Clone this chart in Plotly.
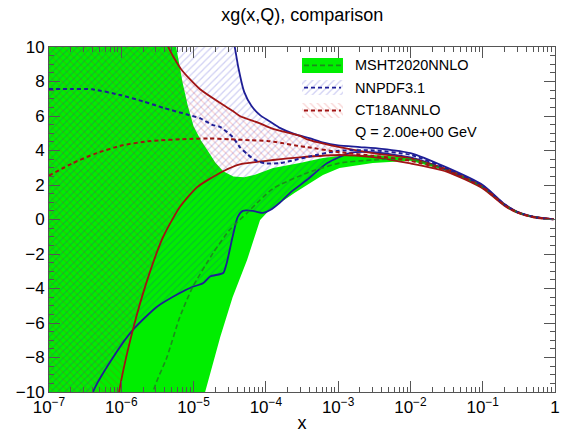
import numpy as np
import plotly.graph_objects as go

# ---- gluon xg(x,Q) at Q = 2 GeV; positions given as log10(x) ----
# MSHT2020NNLO
msht_c_lx = [-7.0, -6.5, -6.0, -5.56, -5.37, -5.19, -5.01, -4.73, -4.50, -4.26, -4.08, -3.90,
             -3.43, -2.98, -2.52, -2.0, -1.5, -1.0, -0.7, -0.52, -0.3, -0.15, -0.022]
msht_c = [-120, -60, -25, -10, -8.0, -5.65, -3.9, -1.94, -0.6, 0.38, 1.13, 1.8,
          2.7, 3.27, 3.45, 3.5, 2.88, 1.88, 0.85, 0.42, 0.15, 0.06, 0.02]
msht_hi_lx = [-7.0, -6.0, -5.5, -5.23, -5.15, -5.08, -5.0, -4.9, -4.81, -4.7, -4.59, -4.45, -4.3,
              -4.15, -3.9, -3.53, -3.21, -2.88, -2.52, -2.0, -1.5, -1.0, -0.7, -0.52, -0.3, -0.15, -0.022]
msht_hi = [120, 40, 16, 10, 7.9, 6.6, 5.4, 4.6, 4.03, 3.3, 2.8, 2.5, 2.45,
           2.6, 2.98, 3.27, 3.56, 3.74, 3.74, 3.6, 2.93, 1.92, 0.88, 0.44, 0.16, 0.07, 0.03]
msht_lo_lx = [-7.0, -6.0, -5.0, -4.84, -4.63, -4.46, -4.26, -4.08, -3.95, -3.80, -3.60, -3.43,
              -3.21, -2.98, -2.52, -2.0, -1.5, -1.0, -0.7, -0.52, -0.3, -0.15, -0.022]
msht_lo = [-150, -60, -17, -10, -6.8, -4.5, -2.35, -0.03, 0.55, 1.0, 1.55, 2.0,
           2.58, 2.98, 3.27, 3.4, 2.83, 1.84, 0.82, 0.40, 0.14, 0.05, 0.01]

# NNPDF3.1
nnpdf_c_lx = [-7.0, -6.7, -6.4, -6.0, -5.7, -5.4, -5.1, -4.9, -4.75, -4.63, -4.46, -4.36, -4.26,
              -4.15, -4.0, -3.8, -3.6, -3.4, -3.0, -2.5, -2.0, -1.5, -1.0, -0.7, -0.52, -0.3, -0.15, -0.022]
nnpdf_c = [7.57, 7.57, 7.55, 7.2, 6.85, 6.45, 6.1, 5.85, 5.5, 5.36, 4.78, 4.2, 3.8,
           3.45, 3.25, 3.27, 3.45, 3.65, 3.98, 4.0, 3.75, 2.95, 1.95, 0.87, 0.43, 0.15, 0.06, 0.02]
nnpdf_hi_lx = [-7.0, -5.5, -4.7, -4.43, -4.38, -4.3, -4.2, -4.08, -3.95, -3.8, -3.6, -3.4, -3.2,
               -3.0, -2.7, -2.4, -2.0, -1.5, -1.0, -0.7, -0.52, -0.3, -0.15, -0.022]
nnpdf_hi = [150, 60, 16, 10, 8.8, 7.4, 6.6, 6.05, 5.7, 5.3, 4.95, 4.72, 4.45,
            4.3, 4.2, 4.1, 3.85, 3.02, 2.0, 0.9, 0.45, 0.16, 0.07, 0.03]
nnpdf_lo_lx = [-7.0, -6.8, -6.6, -6.39, -6.11, -5.84, -5.51, -5.19, -5.01, -4.87, -4.77, -4.59,
               -4.54, -4.46, -4.39, -4.32, -4.18, -4.04, -3.94, -3.80, -3.65, -3.43, -3.15, -2.84,
               -2.52, -2.0, -1.5, -1.0, -0.7, -0.52, -0.3, -0.15, -0.022]
nnpdf_lo = [-45, -25, -16, -10, -7.97, -6.4, -5.07, -4.26, -3.9, -3.7, -3.3, -3.1,
            -2.5, -1.0, 0.14, 0.5, 0.5, 0.38, 0.55, 1.0, 1.6, 2.3, 3.27, 3.85,
            3.9, 3.6, 2.88, 1.9, 0.85, 0.42, 0.15, 0.06, 0.02]

# CT18ANNLO
ct18_c_lx = [-7.0, -6.67, -6.34, -5.98, -5.60, -5.05, -4.80, -4.50, -4.22, -3.98, -3.80, -3.53,
             -3.43, -2.98, -2.52, -2.0, -1.5, -1.0, -0.7, -0.52, -0.3, -0.15, -0.022]
ct18_c = [2.55, 3.27, 3.85, 4.3, 4.55, 4.67, 4.7, 4.65, 4.6, 4.55, 4.45, 4.25,
          4.2, 3.9, 3.7, 3.4, 2.85, 1.85, 0.83, 0.41, 0.14, 0.06, 0.02]
ct18_hi_lx = [-7.0, -6.0, -5.6, -5.35, -5.17, -4.91, -4.63, -4.46, -4.36, -4.1, -3.9, -3.53,
              -3.43, -2.98, -2.52, -2.0, -1.5, -1.0, -0.7, -0.52, -0.3, -0.15, -0.022]
ct18_hi = [60, 22, 13.5, 10, 8.7, 7.55, 6.75, 6.3, 6.0, 5.6, 5.25, 4.85,
           4.65, 4.2, 3.85, 3.55, 2.92, 1.9, 0.87, 0.43, 0.15, 0.07, 0.03]
ct18_lo_lx = [-7.0, -6.5, -6.2, -6.03, -5.84, -5.64, -5.42, -5.19, -4.95, -4.59, -4.36, -4.1,
              -3.9, -3.53, -2.98, -2.52, -2.0, -1.5, -1.0, -0.7, -0.52, -0.3, -0.15, -0.022]
ct18_lo = [-80, -35, -16, -10, -6.4, -3.5, -1.0, 0.72, 1.88, 2.8, 3.2, 3.35,
           3.45, 3.6, 3.74, 3.62, 3.25, 2.78, 1.8, 0.8, 0.39, 0.13, 0.05, 0.01]

legend_names = ["MSHT2020NNLO", "NNPDF3.1", "CT18ANNLO"]
legend_note = "Q = 2.00e+00 GeV"

# x-axis decades and their labels
x_ticks = [1e-7, 1e-6, 1e-5, 1e-4, 1e-3, 1e-2, 1e-1, 1.0]
x_ticktext = ["10<sup>\u22127</sup>", "10<sup>\u22126</sup>", "10<sup>\u22125</sup>",
              "10<sup>\u22124</sup>", "10<sup>\u22123</sup>", "10<sup>\u22122</sup>",
              "10<sup>\u22121</sup>", "1"]
# minor tick positions on the log axis: 2..9 within each decade
minor_x = [m * 10.0 ** k for k in range(-7, 0) for m in range(2, 10)]

GREEN = "#00ee00"
GREEN_LINE = "#1c8c1c"
BLUE = "#1e1e96"
BLUE_HATCH = "rgba(30,30,200,0.42)"
RED = "#a01414"
RED_HATCH = "rgba(220,20,20,0.38)"
AX = "#555555"
FONT = "Liberation Sans, Arial, Helvetica, sans-serif"
HATCH_SIZE = 5
HATCH_SOLIDITY = 0.25


def xs(lx):
    return np.power(10.0, np.asarray(lx, dtype=float))


def band(lo_lx, lo, hi_lx, hi):
    bx = np.concatenate([xs(lo_lx), xs(hi_lx)[::-1]])
    by = np.concatenate([np.asarray(lo, float), np.asarray(hi, float)[::-1]])
    return bx, by


def hatch(shape, color):
    return dict(shape=shape, fgcolor=color, bgcolor="rgba(0,0,0,0)",
                size=HATCH_SIZE, solidity=HATCH_SOLIDITY)


fig = go.Figure()

# error bands
bx, by = band(msht_lo_lx, msht_lo, msht_hi_lx, msht_hi)
fig.add_trace(go.Scatter(x=bx, y=by, mode="lines", fill="toself", fillcolor=GREEN,
                         line=dict(width=0, color=GREEN), hoverinfo="skip", showlegend=False))
bx, by = band(nnpdf_lo_lx, nnpdf_lo, nnpdf_hi_lx, nnpdf_hi)
fig.add_trace(go.Scatter(x=bx, y=by, mode="lines", fill="toself", fillcolor="rgba(0,0,0,0)",
                         fillpattern=hatch("/", BLUE_HATCH),
                         line=dict(width=0), hoverinfo="skip", showlegend=False))
bx, by = band(ct18_lo_lx, ct18_lo, ct18_hi_lx, ct18_hi)
fig.add_trace(go.Scatter(x=bx, y=by, mode="lines", fill="toself", fillcolor="rgba(0,0,0,0)",
                         fillpattern=hatch("\\", RED_HATCH),
                         line=dict(width=0), hoverinfo="skip", showlegend=False))

# band edges
for lx, v, col in [(nnpdf_hi_lx, nnpdf_hi, BLUE), (nnpdf_lo_lx, nnpdf_lo, BLUE),
                   (ct18_hi_lx, ct18_hi, RED), (ct18_lo_lx, ct18_lo, RED)]:
    fig.add_trace(go.Scatter(x=xs(lx), y=v, mode="lines",
                             line=dict(color=col, width=1.8, shape="spline", smoothing=0.6),
                             hoverinfo="skip", showlegend=False))

# central values
fig.add_trace(go.Scatter(x=xs(msht_c_lx), y=msht_c, mode="lines",
                         line=dict(color=GREEN_LINE, width=1.6, dash="5px,3px", shape="spline", smoothing=0.6),
                         showlegend=False))
fig.add_trace(go.Scatter(x=xs(nnpdf_c_lx), y=nnpdf_c, mode="lines",
                         line=dict(color=BLUE, width=2, dash="4px,3px", shape="spline", smoothing=0.6),
                         showlegend=False))
fig.add_trace(go.Scatter(x=xs(ct18_c_lx), y=ct18_c, mode="lines",
                         line=dict(color=RED, width=2, dash="4px,3px", shape="spline", smoothing=0.6),
                         showlegend=False))

# legend drawn on an overlay axis pair spanning the plot area (0..1 in both directions)
sw_x0, sw_x1 = 0.50, 0.581
rows = [(0.968, 0.925), (0.904, 0.861), (0.838, 0.794)]
styles = [
    dict(fillcolor=GREEN, fillpattern=None, line=GREEN_LINE, dash="5px,3px"),
    dict(fillcolor="rgba(0,0,0,0)", fillpattern=hatch("/", BLUE_HATCH), line=BLUE, dash="4px,3px"),
    dict(fillcolor="rgba(0,0,0,0)", fillpattern=hatch("\\", RED_HATCH), line=RED, dash="4px,3px"),
]
for (y1, y0), st, name in zip(rows, styles, legend_names):
    kw = dict(x=[sw_x0, sw_x1, sw_x1, sw_x0, sw_x0], y=[y0, y0, y1, y1, y0], mode="lines",
              fill="toself", fillcolor=st["fillcolor"], line=dict(width=0),
              xaxis="x2", yaxis="y2", hoverinfo="skip", showlegend=False)
    if st["fillpattern"] is not None:
        kw["fillpattern"] = st["fillpattern"]
    fig.add_trace(go.Scatter(**kw))
    ym = (y0 + y1) / 2
    fig.add_trace(go.Scatter(x=[sw_x0 + 0.004, sw_x1 - 0.004], y=[ym, ym], mode="lines",
                             line=dict(color=st["line"], width=1.8, dash=st["dash"]),
                             xaxis="x2", yaxis="y2", hoverinfo="skip", showlegend=False))
    fig.add_annotation(x=0.601, y=ym, xref="x2", yref="y2", text=name, showarrow=False,
                       xanchor="left", yanchor="middle", font=dict(size=14.5, color="black", family=FONT))
fig.add_annotation(x=0.601, y=0.754, xref="x2", yref="y2", text=legend_note, showarrow=False,
                   xanchor="left", yanchor="middle", font=dict(size=14.5, color="black", family=FONT))

fig.update_layout(
    width=565, height=433,
    margin=dict(l=49, r=10, t=47, b=41),
    paper_bgcolor="white", plot_bgcolor="rgba(0,0,0,0)",
    font=dict(family=FONT, color="black"),
    title=dict(text="xg(x,Q), comparison", x=0.535, xanchor="center", y=0.965, yanchor="middle",
               font=dict(size=18, family=FONT)),
    xaxis=dict(type="log", range=[-7, 0], tickmode="array", tickvals=x_ticks, ticktext=x_ticktext,
               ticks="inside", ticklen=11, tickcolor=AX, tickwidth=1,
               showline=True, linecolor=AX, linewidth=1, mirror="allticks",
               minor=dict(ticks="inside", ticklen=5, tickmode="array", tickvals=minor_x,
                          tickcolor=AX, tickwidth=1, showgrid=False),
               showgrid=False, zeroline=False, tickfont=dict(size=17), automargin=False,
               title=dict(text="x", font=dict(size=18), standoff=0)),
    yaxis=dict(range=[-10, 10], dtick=2, ticks="inside", ticklen=11, tickcolor=AX,
               showline=True, linecolor=AX, linewidth=1, mirror="allticks",
               minor=dict(ticks="inside", ticklen=5, dtick=0.5, tickcolor=AX, tickwidth=1, showgrid=False),
               showgrid=False, zeroline=False, tickfont=dict(size=17), automargin=False),
    xaxis2=dict(domain=[0, 1], range=[0, 1], anchor="y2", visible=False, fixedrange=True),
    yaxis2=dict(domain=[0, 1], range=[0, 1], anchor="x2", visible=False, fixedrange=True),
)

fig.write_html("out.html")
